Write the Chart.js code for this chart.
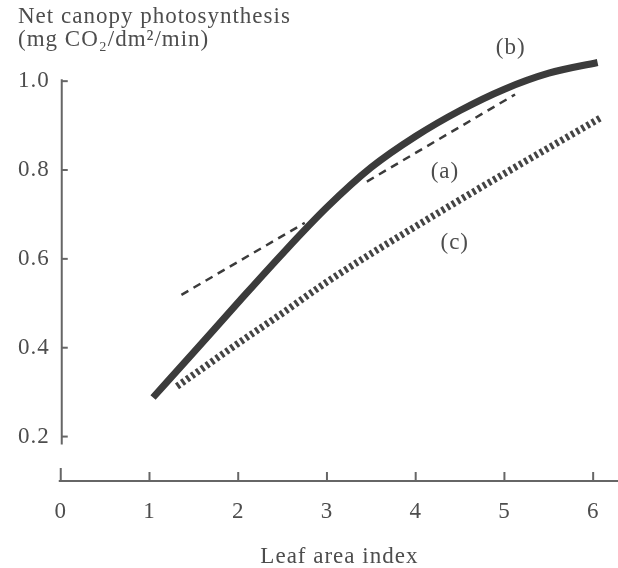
<!DOCTYPE html>
<html><head><meta charset="utf-8">
<script src="https://cdn.jsdelivr.net/npm/chart.js@4"></script>
<style>html,body{margin:0;padding:0;background:#fff}#wrap{width:618px;height:568px;position:relative}</style>
</head><body><div id="wrap"><canvas id="c"></canvas></div>
<script>
// ---- data ----
const xTicks = [0, 1, 2, 3, 4, 5, 6];
const yTicks = [0.2, 0.4, 0.6, 0.8, 1.0];
// (b) thick solid curve
const curveBX = [1.04, 1.5, 2, 2.5, 3, 3.5, 4, 4.5, 5, 5.5, 6.05];
const curveBY = [0.288, 0.390, 0.502, 0.612, 0.716, 0.806, 0.876, 0.934, 0.982, 1.018, 1.042];
// (a) dashed straight line, broken where it passes the curve
const lineAX = [1.36, 2.75, 3.1, 3.45, 5.12];
const lineAY = [0.519, 0.681, null, 0.774, 0.970];
// (c) heavy dotted line
const lineCX = [1.31, 2, 2.5, 3, 3.5, 4, 4.5, 5, 5.5, 6.09];
const lineCY = [0.313, 0.410, 0.478, 0.548, 0.612, 0.673, 0.733, 0.792, 0.850, 0.918];
// curve labels
const curveLabels = ['(a)', '(b)', '(c)'];
const labelX = [4.33, 5.07, 4.44];
const labelY = [0.796, 1.075, 0.636];

const TXT = '#4d4d4d';
const INK = '#3b3b3b';
const FAM = '"Liberation Serif", "Times New Roman", serif';
const FS = 23;

const toPts = (xs, ys) => xs.map((x, i) => ({x: x, y: ys[i]}));

const spacing = {
  id: 'spacing',
  beforeLayout(chart) { chart.ctx.letterSpacing = '1px'; },
  beforeDraw(chart) { chart.ctx.letterSpacing = '1px'; }
};

const axesPlugin = {
  id: 'axesLines',
  beforeDatasetsDraw(chart) {
    const {ctx, scales: {x, y}, chartArea} = chart;
    ctx.save();
    ctx.strokeStyle = '#666';
    ctx.lineWidth = 2;
    ctx.lineCap = 'butt';
    const x0 = x.getPixelForValue(0) + 1;
    // broken y axis
    ctx.beginPath();
    ctx.moveTo(x0, y.getPixelForValue(yTicks[yTicks.length - 1]) - 2);
    ctx.lineTo(x0, y.getPixelForValue(yTicks[0]) + 8);
    ctx.stroke();
    yTicks.forEach(v => {
      const py = y.getPixelForValue(v);
      ctx.beginPath(); ctx.moveTo(x0, py); ctx.lineTo(x0 + 6, py); ctx.stroke();
    });
    // x axis
    const yb = chartArea.bottom;
    ctx.beginPath();
    ctx.moveTo(x.getPixelForValue(0) - 2, yb);
    ctx.lineTo(chartArea.right, yb);
    ctx.stroke();
    ctx.beginPath();
    ctx.moveTo(x0 - 1, yb); ctx.lineTo(x0 - 1, yb - 13); ctx.stroke();
    xTicks.forEach(v => {
      if (v === 0) return;
      const px = x.getPixelForValue(v);
      ctx.beginPath(); ctx.moveTo(px, yb); ctx.lineTo(px, yb - 9); ctx.stroke();
    });
    ctx.restore();
  },
  afterDatasetsDraw(chart) {
    const {ctx, scales: {x, y}} = chart;
    ctx.save();
    ctx.letterSpacing = '1px';
    ctx.font = FS + 'px ' + FAM;
    ctx.fillStyle = TXT;
    ctx.textAlign = 'center';
    ctx.textBaseline = 'middle';
    curveLabels.forEach((t, i) => {
      ctx.fillText(t, x.getPixelForValue(labelX[i]), y.getPixelForValue(labelY[i]));
    });
    ctx.restore();
  }
};

new Chart(document.getElementById('c'), {
  type: 'line',
  data: {
    datasets: [
      {label: '(c)', data: toPts(lineCX, lineCY), borderColor: '#444', borderWidth: 7,
       borderDash: [3, 3], cubicInterpolationMode: 'monotone', pointRadius: 0, clip: false},
      {label: '(a)', data: toPts(lineAX, lineAY), borderColor: INK, borderWidth: 2.5,
       borderDash: [8, 6], tension: 0, spanGaps: false, pointRadius: 0, clip: false},
      {label: '(b)', data: toPts(curveBX, curveBY), borderColor: INK, borderWidth: 7,
       cubicInterpolationMode: 'monotone', pointRadius: 0, clip: false}
    ]
  },
  options: {
    responsive: true,
    maintainAspectRatio: false,
    animation: false,
    events: [],
    layout: {padding: {left: 18, top: 0, right: 0, bottom: 0}},
    plugins: {
      legend: {display: false},
      tooltip: {enabled: false},
      title: {
        display: true,
        text: ['Net canopy photosynthesis', '(mg CO\u2082/dm\u00B2/min)'],
        align: 'start',
        color: TXT,
        font: {family: FAM, size: FS, weight: 'normal', lineHeight: 1},
        padding: {top: 5, bottom: 3.5}
      }
    },
    scales: {
      x: {
        type: 'linear', min: 0, max: 6.28,
        afterBuildTicks: s => { s.ticks = xTicks.map(v => ({value: v})); },
        ticks: {callback: v => String(v), color: TXT, font: {family: FAM, size: FS}, padding: 17, maxRotation: 0, autoSkip: false},
        grid: {display: false, drawTicks: false},
        border: {display: false},
        title: {display: true, text: 'Leaf area index', color: TXT,
                font: {family: FAM, size: FS, lineHeight: 1}, padding: {top: 2.4, bottom: 0}}
      },
      y: {
        type: 'linear', min: 0.1, max: 1.06,
        afterBuildTicks: s => { s.ticks = yTicks.map(v => ({value: v})); },
        ticks: {callback: v => v.toFixed(1), color: TXT, font: {family: FAM, size: FS}, padding: 5.5, crossAlign: 'far', autoSkip: false},
        grid: {display: false, drawTicks: false},
        border: {display: false}
      }
    }
  },
  plugins: [spacing, axesPlugin]
});
</script>
</body></html>
